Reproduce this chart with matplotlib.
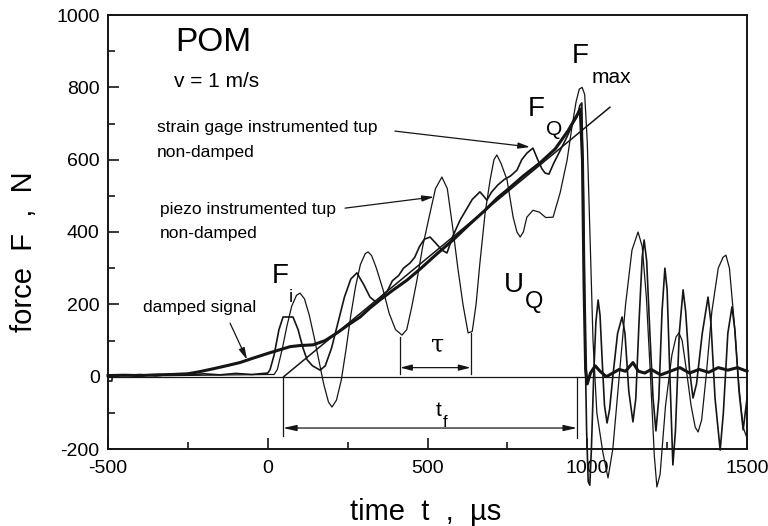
import matplotlib
matplotlib.use('Agg')
import matplotlib.pyplot as plt
from matplotlib.ticker import MultipleLocator

plt.rcParams['font.family'] = ['Liberation Sans', 'DejaVu Sans']
plt.rcParams['axes.unicode_minus'] = False

# -------------------------------------------------
# data (time in us, force in N)
# -------------------------------------------------
piezo_t = [-500, -300, -100, 0, 20, 30, 45, 60, 75, 90, 101, 115, 130, 145, 160, 175, 190, 201,
           215, 230, 245, 260, 275, 290, 305, 314, 325, 340, 361, 380, 400, 420, 435, 450, 467,
           485, 508, 525, 545, 562, 580, 595, 611, 627, 640, 652, 664, 680, 696, 708, 717, 730,
           749, 768, 780, 790, 800, 811, 830, 850, 870, 893, 915, 937, 952, 965, 975, 984, 992,
           1000, 1009, 1018, 1030, 1049, 1065, 1080, 1100, 1120, 1140, 1159, 1172, 1185, 1198,
           1210, 1218, 1228, 1245, 1265, 1278, 1287, 1297, 1310, 1325, 1338, 1347, 1358, 1372,
           1390, 1410, 1425, 1434, 1445, 1460, 1475, 1488, 1500]
piezo_f = [5, 3, 5, 6, 6, 20, 75, 140, 195, 225, 231, 215, 170, 110, 45, -20, -70, -84,
           -65, -10, 75, 170, 250, 310, 340, 345, 335, 300, 240, 175, 130, 115, 130, 190, 267,
           360, 453, 520, 552, 520, 405, 300, 200, 121, 125, 200, 314, 450, 544, 600, 613, 590,
           544, 441, 400, 386, 400, 441, 460, 455, 440, 441, 508, 599, 690, 760, 795, 800, 780,
           650, 378, 101, -100, -210, -280, -200, 0, 200, 350, 400, 360, 220, 0,
           -220, -305, -270, -80, 60, 110, 121, 100, 20, -80, -140, -153, -120, 0,
           180, 300, 330, 336, 300, 150, -30, -140, -170]

strain_t = [-500, -488, -486, -450, -400, -350, -300, -250, -200, -150, -100, -50, 0, 7, 20, 35,
            48, 79, 95, 110, 123, 140, 164, 180, 200, 220, 240, 260, 279, 300, 320, 342, 360,
            375, 390, 410, 425, 445, 460, 475, 490, 508, 525, 545, 561, 580, 602, 620, 640, 664,
            675, 686, 700, 720, 740, 760, 780, 795, 811, 830, 845, 858, 868, 880, 895, 915, 937,
            955, 968, 977, 983, 988, 993, 998, 1003, 1008, 1013, 1020, 1027, 1034, 1040, 1047,
            1054, 1062, 1070, 1080, 1095, 1109, 1118, 1130, 1143, 1152, 1162, 1172, 1178, 1186,
            1196, 1206, 1215, 1224, 1234, 1243, 1250, 1258, 1268, 1276, 1288, 1300, 1308, 1320,
            1331, 1342, 1360, 1378, 1387, 1400, 1416, 1426, 1440, 1453, 1462, 1475, 1488, 1500]
strain_f = [-12, -12, 4, 3, 6, 2, 7, 4, 8, 5, 9, 6, 10, 19, 60, 130,
            165, 165, 130, 80, 47, 30, 18, 30, 80, 150, 220, 270, 287, 255, 220, 204, 225,
            238, 265, 280, 300, 314, 330, 360, 380, 386, 370, 350, 342, 390, 433, 460, 490, 511,
            500, 488, 510, 530, 545, 555, 571, 600, 618, 632, 600, 575, 563, 560, 590, 625, 664,
            700, 718, 750, 757, 500, 100, -150, -290, -300, -200, 0, 150, 212, 170, 40,
            -80, -128, -90, 0, 120, 165, 120, -40, -125, -60, 150, 330, 378, 320,
            120, -60, -150, -60, 180, 300, 240, 20, -244, -150, 120, 240, 180, 20,
            -59, -20, 120, 220, 150, -60, -203, -100, 120, 193, 130, -40, -147, -60]

damped_t = [-500, -450, -400, -350, -300, -250, -212, -170, -130, -87, -50, 6, 40, 70, 100,
            142, 180, 217, 250, 289, 320, 351, 390, 436, 480, 530, 580, 630, 680, 720, 749,
            800, 852, 900, 940, 968, 978, 985, 990, 995, 1000, 1010, 1025, 1040, 1060, 1080,
            1100, 1120, 1143, 1160, 1180, 1200, 1230, 1260, 1290, 1320, 1350, 1380, 1410,
            1440, 1470, 1500]
damped_f = [3, 4, 3, 5, 6, 8, 14, 22, 30, 39, 50, 66, 75, 83, 86,
            88, 100, 121, 142, 165, 190, 212, 238, 267, 300, 340, 378, 420, 460, 495, 516,
            555, 591, 630, 680, 723, 740, 600, 250, 20, -20, 10, 30, 15, 0, 10,
            20, 15, 39, 15, 10, 20, 5, 15, 25, 10, 20, 12, 25,
            18, 25, 15]

# straight tangent line and its foot
tangent_t = [50, 1071]
tangent_f = [0, 745]

# markers for tau and t_f
tau_left, tau_right = 414, 635
tf_left, tf_right = 48, 968

ink = '#151515'

fig = plt.figure(figsize=(7.68, 5.26), dpi=100)
ax = fig.add_axes([108 / 768, 1 - 449 / 526, 639 / 768, 434 / 526])

ax.set_xlim(-500, 1500)
ax.set_ylim(-200, 1000)

ax.axhline(0, color=ink, lw=0.9)
ax.plot(tangent_t, tangent_f, color=ink, lw=1.1)
ax.plot(piezo_t, piezo_f, color=ink, lw=0.9, clip_on=False)
ax.plot(strain_t, strain_f, color=ink, lw=1.2, clip_on=False)
ax.plot(damped_t, damped_f, color=ink, lw=2.2, clip_on=False)

# tau bracket
ax.plot([tau_left, tau_left], [110, 8], color=ink, lw=0.9)
ax.plot([tau_right, tau_right], [120, 8], color=ink, lw=0.9)
ax.annotate('', xy=(tau_right, 25), xytext=(tau_left, 25),
            arrowprops=dict(arrowstyle='<|-|>,head_length=0.7,head_width=0.18',
                            color=ink, lw=0.9, shrinkA=0, shrinkB=0))
ax.text(533, 88, 'τ', fontsize=17, ha='center', va='center', family='DejaVu Serif')

# t_f bracket
ax.plot([tf_left, tf_left], [0, -165], color=ink, lw=0.9)
ax.plot([tf_right, tf_right], [0, -170], color=ink, lw=0.9)
ax.annotate('', xy=(tf_right, -142), xytext=(tf_left, -142),
            arrowprops=dict(arrowstyle='<|-|>,head_length=0.8,head_width=0.18',
                            color=ink, lw=0.9, shrinkA=0, shrinkB=0))
ax.text(536, -93, 't', fontsize=15, ha='center', va='center')
ax.text(555, -126, 'f', fontsize=12, ha='center', va='center')

# pointer arrows
arrow_kw = dict(arrowstyle='-|>,head_length=0.7,head_width=0.18', color=ink, lw=0.9,
                shrinkA=0, shrinkB=0)
ax.annotate('', xy=(821, 635), xytext=(398, 679), arrowprops=arrow_kw)
ax.annotate('', xy=(520, 497), xytext=(242, 466), arrowprops=arrow_kw)
ax.annotate('', xy=(-65, 47), xytext=(-118, 148), arrowprops=arrow_kw)

# texts
ax.text(-171, 923, 'POM', fontsize=24, ha='center', va='center')
ax.text(-159, 815, 'v = 1 m/s', fontsize=15, ha='center', va='center')
ax.text(-347, 690, 'strain gage instrumented tup', fontsize=12.5, ha='left', va='center')
ax.text(-347, 621, 'non-damped', fontsize=12.5, ha='left', va='center')
ax.text(-337, 461, 'piezo instrumented tup', fontsize=12.5, ha='left', va='center')
ax.text(-337, 397, 'non-damped', fontsize=12.5, ha='left', va='center')
ax.text(-390, 190, 'damped signal', fontsize=12.5, ha='left', va='center')

ax.text(38, 278, 'F', fontsize=20, ha='center', va='center')
ax.text(73, 218, 'i', fontsize=13, ha='center', va='center')
ax.text(841, 740, 'F', fontsize=20, ha='center', va='center')
ax.text(897, 683, 'Q', fontsize=15, ha='center', va='center')
ax.text(979, 887, 'F', fontsize=20, ha='center', va='center')
ax.text(1076, 827, 'max', fontsize=15, ha='center', va='center')
ax.text(771, 253, 'U', fontsize=20, ha='center', va='center')
ax.text(832, 206, 'Q', fontsize=17, ha='center', va='center')

# axes style
ax.xaxis.set_major_locator(MultipleLocator(500))
ax.xaxis.set_minor_locator(MultipleLocator(250))
ax.yaxis.set_major_locator(MultipleLocator(200))
ax.yaxis.set_minor_locator(MultipleLocator(100))
ax.tick_params(which='both', direction='in', top=False, right=False, color=ink, width=1.2)
ax.tick_params(which='major', length=8, labelsize=14, pad=8)
ax.tick_params(which='minor', length=5)
ax.tick_params(axis='y', which='major', pad=6)
for s in ax.spines.values():
    s.set_linewidth(1.4)
    s.set_color(ink)

fig.text(426 / 768, 1 - 512 / 526, 'time  t  ,  µs', fontsize=21, ha='center', va='center')
fig.text(24 / 768, 1 - 252 / 526, 'force  F  ,  N', fontsize=21, ha='center', va='center',
         rotation=90)

fig.savefig('out.png', dpi=100)
